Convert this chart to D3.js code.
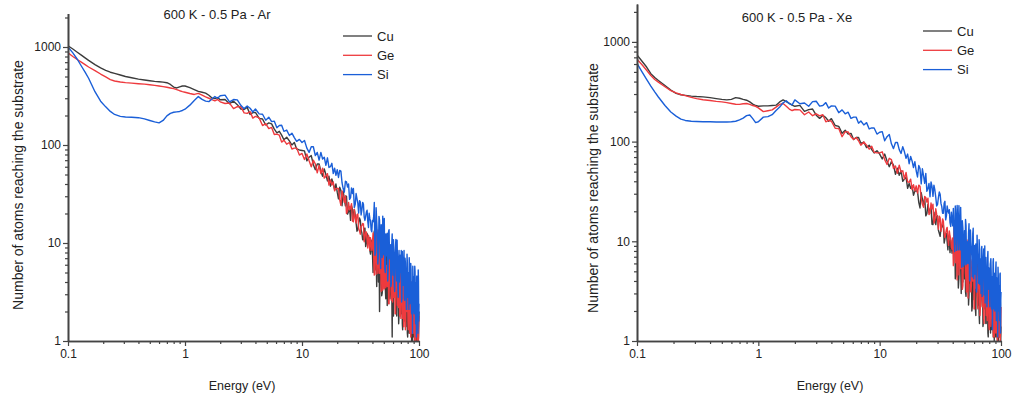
<!DOCTYPE html>
<html><head><meta charset="utf-8">
<script src="https://cdn.jsdelivr.net/npm/d3@7"></script>
<style>
body{margin:0;background:#fff}
svg{display:block}
text{font-family:"Liberation Sans",Arial,sans-serif;fill:#222}
</style>
</head><body>
<svg id="c" width="1015" height="397"></svg>
<script>
// ---------- data ----------
const energy = [
 0.1,0.11,0.12,0.13,0.14,0.15,0.17,0.19,0.21,0.23,0.25,0.28,0.31,0.35,0.4,0.45,0.5,0.55,0.6,0.65,0.7,0.75,0.8,0.85,0.9,0.95,1.0,1.1,1.2,1.3,1.4,1.5,1.6,1.7,1.8,1.9,2.0,
 2.2,2.4,2.6,2.8,3.0,3.2,3.4,3.6,3.8,4.0,4.3,4.6,4.9,5.2,5.5,5.8,6.1,6.4,6.7,7.0,7.4,7.8,8.2,8.6,9.0,9.5,10,
 10.5,11,11.5,12,12.5,13,13.5,14,14.5,15,15.5,16,16.5,17,17.5,18,18.5,19,19.5,20,
 21,22,23,24,25,26,27,28,29,30,31,32,33,34,35,36,37,38,39,40,
 41,42,43,44,45,46,47,48,49,50,51,52,53,54,55,56,57,58,59,60,
 61,62,63,64,65,66,67,68,69,70,71,72,73,74,75,76,77,78,79,80,
 81,82,83,84,85,86,87,88,89,90,91,92,93,94,95,96,97,98,99,100
];
// extra (half-step) energy bins of the high-energy tail
const energyHalf = [
 20.5,21.5,22.5,23.5,24.5,25.5,26.5,27.5,28.5,29.5,30.5,31.5,32.5,33.5,34.5,35.5,36.5,37.5,38.5,39.5,
 40.5,41.5,42.5,43.5,44.5,45.5,46.5,47.5,48.5,49.5,50.5,51.5,52.5,53.5,54.5,55.5,56.5,57.5,58.5,59.5,
 60.5,61.5,62.5,63.5,64.5,65.5,66.5,67.5,68.5,69.5,70.5,71.5,72.5,73.5,74.5,75.5,76.5,77.5,78.5,79.5,
 80.5,81.5,82.5,83.5,84.5,85.5,86.5,87.5,88.5,89.5,90.5,91.5,92.5,93.5,94.5,95.5,96.5,97.5,98.5,99.5
];
const seriesNames = ["Cu", "Ge", "Si"];
const titles = ["600 K - 0.5 Pa - Ar", "600 K - 0.5 Pa - Xe"];
const xLabel = "Energy (eV)";
const yLabel = "Number of atoms reaching the substrate";
const xTickValues = [0.1, 1, 10, 100];
const yTickValues = [1, 10, 100, 1000];

// Ar panel
const cuAr = [
 1030,955,885,825,775,730,662,612,578,553,538,518,500,486,470,460,452,446,442,438,432,415,390,382,392,400,400,385,368,352,345,338,322,302,298,305,290,
 291,264,280,258,233,230,242,205,214,215,187,184,160,168,164,145,133,138,126,113,120,110,100,106,91,89,88,
 87,69,75,78,63,56,64,64,54,48,57,50,43,48,38,45,40,35,40,33,
 37,24,28,30,21,17,22,22,16,13.6,18,13.7,10.8,13.7,9.2,12.5,10.6,8.4,10.7,7.8,
 12,5.3,8,12.5,4,2,8.4,2.9,6.6,9, 4.1,2.7,6.2,4.6,8.4,2.8,3.1,5.8,1.1,1.9,
 5.8,3,4.3,2,5.8,3,1.5,4,4.8,2, 2.9,1.5,3.9,3,2,4.5,1.4,2.3,3.2,1.1,
 3.7,1.9,1.3,2.6,3,1.4,2.2,1,3.5,1.4, 1.8,2.5,1,2.1,2.9,1,1.5,2.5,1.1,2
];
const cuArHalf = [
 28.2,34.4,33.8,23.9,19.7,23.3,24,16.9,19.3,13.2,16,17.1,12.7,10.8,14.2,10,11.2,11.4,7.7,8.9,
 5,13.3,7.5,3.6,9.9,12.4,4.7,6.5,3.1,8.6, 6.5,3.5,9,2.3,5.2,6.5,2.7,5.5,3.5,6.6,
 1.8,4.3,5.5,2.7,1.8,6,3.1,1.8,4.1,3.3, 1.9,4.9,1.3,2.7,3.9,1.6,3.1,2,3.9,1.2,
 2.2,4,1.2,2.9,1.5,2.3,1,3.1,1.7,2.4, 1.1,3.1,1.9,1,2.5,1.1,2,2.9,1,1.5
];
const geAr = [
 870,800,745,700,660,625,575,530,495,465,450,440,433,428,422,418,412,406,400,394,388,382,376,368,358,350,345,335,328,336,322,310,300,290,282,292,276,
 265,268,235,247,246,213,210,219,188,196,189,158,165,147,151,128,129,126,107,112,102,106,91,93,93,79,82,
 71,81,69,60,70,64,52,62,51,58,46,48,51,39,44,39,42,34,36,36,
 27.7,34,26,20,26,23,16.8,22,16,19.8,13.3,14.8,15.8,10.3,13,10.7,12,8.4,9.9,10,
 7,13.4,4.8,9.2,13.5,4.9,6.6,9.5,3.3,7.6, 9.9,3.5,4.7,7.1,2.4,7.8,5,2.6,8,3.5,
 2.8,5.6,1.9,4.6,3.5,6.2,2.2,3.1,4.9,1.7, 4.1,5,2.2,1.4,4.1,2.8,1.6,4.7,2,2.9,
 1.3,3.7,2.9,1.5,1.1,3.7,1.9,2.9,1.2,2.3, 3.7,1.2,1.9,1,2.6,3.8,1.3,2.8,1,1.8
];
const geArHalf = [
 36,24.2,29.7,30.4,21.1,21.8,25.2,16.5,18.4,19.4,14.2,12.3,15.1,15.7,11.4,13,8.9,10.7,11.3,8.4,
 12.7,4.7,9.8,13.7,4.9,7.2,13,3.2,8,5, 3.4,8.6,5.9,3.6,8.9,2.4,5.8,4.2,7.1,2.5,
 5.4,2.9,1.9,6.8,3.8,2.3,5.1,4,1.8,5.3, 2.7,4.2,1.7,5.4,2.1,3.1,1.3,4.1,2.5,3.2,
 1.6,3.5,4,1.2,2.6,1.8,4,1.2,2.2,1.4, 3.1,1,2.5,1.9,3.3,1.2,2,1,2.9,1.5
];
const siAr = [
 1000,870,750,640,555,480,350,280,245,220,205,196,193,192,190,185,178,172,168,178,198,210,216,218,220,225,232,255,285,312,292,280,277,295,312,300,318,
 323,276,291,289,254,235,250,237,217,233,208,206,179,192,173,175,150,158,159,138,142,125,132,119,109,114,106,
 111,93,84,96,96,78,84,70,84,72,75,62,74,59,60,65,51,58,49,56,
 55,41,33,42,40,29,32,23,32,25.5,27,19.3,26,18.5,18.7,21.6,14.4,17.8,13.6,17,
 18.7,7.5,22.9,12.5,7.7,17.1,5.5,12.5,18.8,7.6, 5.5,12.4,9,4.1,13.2,6.9,9.6,3.9,12.4,4.7,
 7.1,3.2,9.5,5.7,10.7,3.4,6.6,4,7.5,5, 2.5,8.2,4,6.2,2.7,7,4.7,2.1,7.7,2.8,
 4.8,2.1,5.5,3.2,6.2,2.3,3.6,1.2,4.6,3.9, 1.9,5.8,2.4,3.9,1.1,4.6,2.8,1.2,4.1,2.4
];
const siArHalf = [
 46.6,54.1,35.7,42.7,37.2,27.9,36.5,36,24.8,28.3,20.2,26.3,21.8,24.8,17,20.7,16.6,20.1,16.8,13,
 16.4,25.9,8,16.6,6.1,18.7,10.6,15.4,7.1,11.7, 17.8,5,7.4,12.6,5.3,13.7,7.9,3.6,9.8,6.8,
 10.8,3.8,7.8,10.9,4.1,6.3,2.8,8.4,4.7,6.9, 8.4,2.7,5.7,3.7,8.4,2.6,6.3,4.2,2.1,6.4,
 2.9,5,7.1,2.4,3.7,5.3,1.9,4,5.8,2, 4.5,2.7,5.1,1.5,3.3,4.5,2,3.7,5.3,1.6
];

// Xe panel
const cuXe = [
 740,640,560,480,440,410,365,328,305,295,291,286,283,281,276,270,265,262,265,276,272,265,260,250,238,230,226,228,228,230,232,250,262,252,242,232,226,
 231,201,209,212,184,171,183,174,160,170,145,142,121,130,119,121,105,110,110,96,99,87,92,83,77,81,75,
 67,75,64,56,63,58,47,54,46,51,40,42,44,34,38,34,36,29,32,32,
 24.6,30.7,23.3,18,23.5,20.7,14.8,19.6,14.7,18,12,13.5,14.6,9.6,12,9.9,11.1,7.7,9,9.1,
 10.4,4.2,12.7,7,4.3,9.5,3,6.9,10.5,4.2, 3.1,6.9,5,2.3,7.3,3.8,5.4,2.2,6.9,2.6,
 4,1.8,5.3,3.1,6,1.9,3.6,2.2,4.2,2.8, 1.4,4.5,2.2,3.4,1.5,3.9,2.6,1.2,4.3,1.5,
 2.7,1.2,3.1,1.8,3.4,1.3,2,1,2.6,2.1, 1.1,3.2,1.4,2.2,1,2.6,1.6,1.1,2.3,1.4
];
const cuXeHalf = [
 31.9,21.6,26.5,27.1,18.9,19.4,22.3,14.7,16.7,17.7,12.9,11.2,13.8,14.5,10.6,12,8.2,9.9,10.3,7.6,
 9.1,14.4,4.5,9.2,3.4,10.4,5.9,8.6,3.9,6.5, 9.9,2.8,4.1,7,2.9,7.6,4.4,2,5.5,3.8,
 6,2.1,4.3,6,2.3,3.5,1.5,4.7,2.6,3.8, 4.7,1.5,3.2,2.1,4.6,1.5,3.5,2.3,1.1,3.6,
 1.6,2.8,3.9,1.3,2.1,2.9,1.1,2.2,3.2,1.1, 2.5,1.5,2.8,1,1.8,2.5,1.1,2,2.9,1
];
const geXe = [
 670,590,520,460,420,395,355,325,308,297,289,278,270,263,258,253,250,246,241,237,236,240,241,236,230,226,218,200,204,208,222,236,241,226,212,205,210,
 208,186,198,182,190,181,186,158,163,160,136,135,112,126,125,112,105,110,102,92,99,92,84,90,78,77,77,
 79,66,59,68,66,54,57,48,58,49.5,51,42,49,39.5,39,42,33,37,32,36,
 36.6,27,21.9,27.5,27,19.1,21.1,15.2,21.2,16.7,17.9,12.6,16.8,11.9,12,13.8,9.1,11.3,8.7,10.8,
 13.8,6.1,9.2,14.4,4.6,6.5,9.7,3.3,7.6,10.4, 4.7,3.1,7.1,5.3,9.7,3.2,3.6,6.6,4.9,2.1,
 6.6,3.4,4.9,2.3,6.7,3.4,1.8,4.6,5.5,2.3, 3.3,1.7,4.5,3.5,2.3,5.1,1.6,2.7,3.6,1.3,
 4.2,2.2,1.5,3,3.5,1.6,2.5,1.1,4,1.6, 2,2.9,1.1,2.4,3.3,1.1,1.7,2.8,1.2,2.2
];
const geXeHalf = [
 30.4,35.7,23.5,28.1,24.7,18.6,24.2,23.6,16.3,18.6,13.2,17.2,14.1,15.9,10.9,13.2,10.5,12.7,10.7,8.3,
 5.7,15.2,8.6,4.1,11.3,14.2,5.3,7.5,3.6,9.9, 7.5,4,10.3,2.7,6,7.5,3.1,6.3,4,7.6,
 2.1,4.9,6.4,3.1,2.1,6.9,3.5,2.1,4.7,3.8, 2.2,5.6,1.5,3.1,4.5,1.8,3.6,2.3,4.5,1.4,
 2.5,4.6,1.4,3.4,1.7,2.7,1.1,3.5,2,2.8, 1.2,3.6,2.2,1,2.9,1.3,2.3,3.3,1,1.7
];
const siXe = [
 610,500,420,360,315,280,230,198,180,168,163,160,159,158,158,157,157,157,158,160,165,172,182,185,170,155,158,176,178,186,205,222,245,257,240,234,262,
 240,244,226,252,254,227,230,246,217,228,227,195,208,190,197,171,176,176,153,161,147,155,134,137,137,119,124,
 126,102,112,118,95,85,98,98,83,76,89,79,68,75,60,71,64,55,63,51,
 57.5,37.7,45.2,48,33.8,28,35.6,36.6,27.6,23.4,31.2,24,19.1,24.1,16.4,22.6,19.2,15.4,19.6,14.3,
 11.8,22.6,8.1,15.5,22.8,8.2,11.2,16.1,5.6,12.8, 16.6,5.9,7.9,11.9,4.1,13,8.4,4.4,13.5,5.8,
 4.7,9.4,3.1,7.7,6,10.4,3.7,5.2,8.3,2.8, 6.8,8.4,3.6,2.4,6.9,4.7,2.6,7.9,3.3,4.9,
 2.2,6.2,4.9,2.6,1.3,6.2,3.2,4.8,2,3.8, 6.2,2.1,3.2,1.1,4.4,3.6,2.2,4.7,1.2,3.1
];
const siXeHalf = [
 44.2,53.8,53.4,38.2,31.7,38,39.4,28.2,32.7,22.6,27.5,29.7,22.3,19.1,25.2,18,20.3,20.7,14.1,16.3,
 21.4,7.9,16.6,22.9,8.2,12,21.9,5.5,13.5,8.5, 5.8,14.4,9.9,6,15,4,9.7,7.1,11.9,4.2,
 9.1,4.9,3.2,11.5,6.3,3.8,8.6,6.7,3,8.9, 4.6,7,2.9,9,3.5,5.2,2.2,6.9,4.2,5.4,
 2.6,5.9,6.7,2.1,4.4,3.1,6.7,2.1,3.7,2.3, 5.2,1.6,4.3,3.1,5.5,2,3.4,1.6,4.8,2.5
];

// ---------- layout / style ----------
const colors = ["#3c3c3c", "#ee3a3e", "#1a5fd8"];
const axisColor = "#444";
const panels = [
  {title: titles[0], series: [[cuAr, cuArHalf], [geAr, geArHalf], [siAr, siArHalf]],
   left: 68, right: 419, bottom: 341, decade: 98, yMax: 2200,
   titleX: 217, titleY: 19, legX: 343, legY: 36, yLabX: 18, yLabY: 185, xLabX: 242},
  {title: titles[1], series: [[cuXe, cuXeHalf], [geXe, geXeHalf], [siXe, siXeHalf]],
   left: 637, right: 1001, bottom: 341, decade: 99.7, yMax: 2400,
   titleX: 797, titleY: 22, legX: 923, legY: 31, yLabX: 593, yLabY: 188, xLabX: 830}
];

const svg = d3.select("#c");

function minorTicks(lo, hi) {
  const out = [];
  for (let d = lo; d < hi * 1.0001; d *= 10) {
    for (let k = 2; k <= 9; k++) { const v = +(k * d).toPrecision(6); if (v <= hi) out.push(v); }
  }
  return out;
}
function buildPoints(main, half) {
  const pts = [];
  for (let j = 0; j < Math.min(energy.length, main.length); j++) pts.push([energy[j], main[j]]);
  for (let j = 0; j < Math.min(energyHalf.length, half.length); j++) pts.push([energyHalf[j], half[j]]);
  return pts.sort((a, b) => a[0] - b[0]);
}

panels.forEach((p, i) => {
  const x = d3.scaleLog().domain([0.1, 100]).range([p.left, p.right]);
  const yTop = p.bottom - Math.log10(p.yMax) * p.decade;
  const y = d3.scaleLog().domain([1, p.yMax]).range([p.bottom, yTop]);
  const g = svg.append("g");

  const clipId = "clip" + i;
  svg.append("clipPath").attr("id", clipId).append("rect")
    .attr("x", p.left).attr("y", yTop).attr("width", p.right - p.left + 1).attr("height", p.bottom - yTop + 1);

  const line = d3.line().x(d => x(d[0])).y(d => y(Math.max(1, d[1])));
  p.series.forEach((pair, k) => {
    const pts = buildPoints(pair[0], pair[1]);
    g.append("path").attr("clip-path", `url(#${clipId})`)
      .attr("d", line(pts)).attr("fill", "none")
      .attr("stroke", colors[k]).attr("stroke-width", 1.4).attr("stroke-linejoin", "round");
  });

  const styleAxis = sel => {
    sel.select(".domain").attr("stroke", axisColor).attr("stroke-width", 1.6);
    sel.selectAll(".tick line").attr("stroke", axisColor).attr("stroke-width", 1.2);
    sel.selectAll(".tick text").attr("font-size", "12px").attr("fill", "#222")
      .attr("font-family", '"Liberation Sans", Arial, sans-serif');
  };
  const fmt = d => String(d);
  const xMinor = g.append("g").attr("transform", `translate(0,${p.bottom})`)
    .call(d3.axisBottom(x).tickValues(minorTicks(0.1, 100)).tickFormat("").tickSize(3).tickSizeOuter(0));
  styleAxis(xMinor);
  const xMajor = g.append("g").attr("transform", `translate(0,${p.bottom})`)
    .call(d3.axisBottom(x).tickValues(xTickValues).tickFormat(fmt).tickSize(5).tickSizeOuter(0).tickPadding(3));
  styleAxis(xMajor);

  const yMinor = g.append("g").attr("transform", `translate(${p.left},0)`)
    .call(d3.axisLeft(y).tickValues(minorTicks(1, p.yMax)).tickFormat("").tickSize(3).tickSizeOuter(0));
  styleAxis(yMinor);
  const yMajor = g.append("g").attr("transform", `translate(${p.left},0)`)
    .call(d3.axisLeft(y).tickValues(yTickValues).tickFormat(fmt).tickSize(5).tickSizeOuter(0).tickPadding(2));
  styleAxis(yMajor);

  g.append("text").attr("x", p.titleX).attr("y", p.titleY).attr("text-anchor", "middle")
    .attr("font-size", "13px").text(p.title);

  seriesNames.forEach((name, k) => {
    const ly = p.legY + k * 19.3;
    g.append("line").attr("x1", p.legX).attr("x2", p.legX + 29).attr("y1", ly).attr("y2", ly)
      .attr("stroke", colors[k]).attr("stroke-width", 1.3);
    g.append("text").attr("x", p.legX + 34).attr("y", ly).attr("dy", "0.35em")
      .attr("font-size", "13px").text(name);
  });

  g.append("text").attr("transform", `translate(${p.yLabX},${p.yLabY}) rotate(-90)`)
    .attr("text-anchor", "middle").attr("dy", "0.35em").attr("font-size", "14px").text(yLabel);
  g.append("text").attr("x", p.xLabX).attr("y", 386).attr("dy", "0.35em")
    .attr("text-anchor", "middle").attr("font-size", "12.5px").text(xLabel);
});
</script>
</body></html>
